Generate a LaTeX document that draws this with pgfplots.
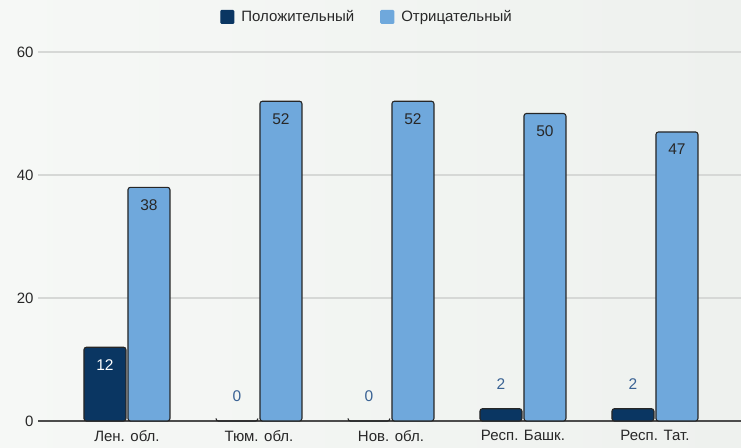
\documentclass[border=0pt]{standalone}
\usepackage{pgfplots}
\pgfplotsset{compat=1.18}
\usepackage{fontspec}
\setmainfont{Liberation Sans}
\definecolor{darkbar}{RGB}{10,54,98}
\definecolor{lightbar}{RGB}{111,168,220}
\definecolor{lblblue}{RGB}{58,98,148}
\definecolor{bgl}{RGB}{246,248,246}
\definecolor{bgr}{RGB}{238,241,238}
\definecolor{gridc}{RGB}{214,216,214}
\definecolor{txt}{RGB}{40,40,40}
\begin{document}
\begin{tikzpicture}[x=1pt,y=1pt]
\shade[left color=bgl,right color=bgr] (-38,-26) rectangle (703,421);
\path[use as bounding box] (-38,-26) rectangle (703,421);
\begin{axis}[
  at={(0,0)}, anchor=south west,
  scale only axis, width=703pt, height=369pt,
  xmin=-0.674, xmax=4.652, ymin=0, ymax=60,
  axis line style={draw=none},
  major tick length=0pt,
  ytick={20,40,60},
  extra y ticks={0}, extra y tick labels={0},
  extra y tick style={grid style={draw=black!70, line width=1.3pt}},
  ymajorgrids, grid style={draw=gridc, line width=1.2pt},
  xtick={0,1,2,3,4},
  xticklabels={Лен. обл., Тюм. обл., Нов. обл., Респ. Башк., Респ. Тат.},
  tick label style={font=\fontsize{15}{17}\selectfont, text=txt},
  /pgf/number format/assume math mode=true,
  yticklabel style={xshift=-1pt},
  xticklabel style={yshift=-6pt},
  legend columns=2,
  legend style={at={(0.468,1.095)}, anchor=center, draw=none, fill=none,
    font=\fontsize{15}{17}\selectfont, text=txt,
    /tikz/every odd column/.append style={column sep=5pt},
    /tikz/every even column/.append style={column sep=24pt}},
  ybar, bar width=42pt,
  every axis plot/.append style={draw=black!85, line width=1.1pt, rounded corners=2.5pt},
  nodes near coords style={font=\fontsize{15.5}{17}\selectfont, inner sep=0pt},
]
\addlegendimage{legend image code/.code={\fill[darkbar, rounded corners=1pt] (0pt,-6.5pt) rectangle (13pt,6.5pt);}}
\addlegendentry{Положительный}
\addlegendimage{legend image code/.code={\fill[lightbar, rounded corners=1pt] (0pt,-6.5pt) rectangle (13pt,6.5pt);}}
\addlegendentry{Отрицательный}
\addplot[fill=darkbar, bar shift=-22pt, forget plot, nodes near coords,
  nodes near coords style={anchor=north, yshift=-12pt, text=white}]
  coordinates {(0,12)};
\addplot[fill=lightbar, bar shift=22pt, forget plot, nodes near coords,
  nodes near coords style={anchor=north, yshift=-11.5pt, text=txt}]
  coordinates {(0,38) (1,52) (2,52) (3,50) (4,47)};
\addplot[fill=darkbar, bar shift=-22pt, forget plot, nodes near coords,
  nodes near coords style={anchor=south, yshift=18.5pt, text=lblblue}]
  coordinates {(1,0) (2,0) (3,2) (4,2)};
\end{axis}
\end{tikzpicture}
\end{document}
